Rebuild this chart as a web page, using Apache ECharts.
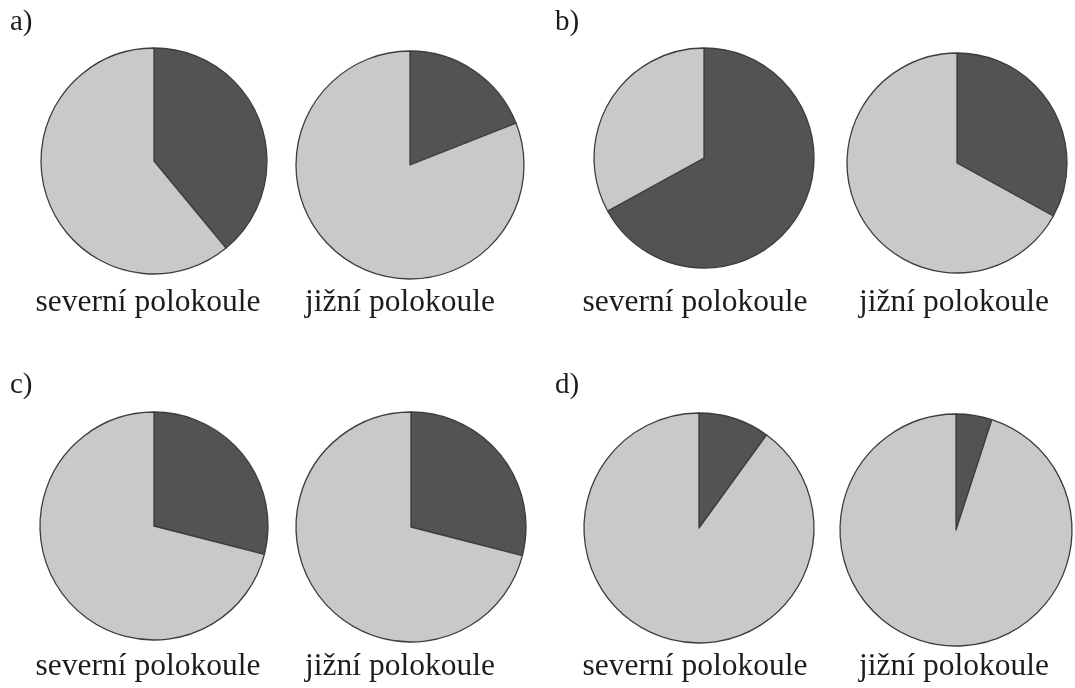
<!DOCTYPE html>
<html>
<head>
<meta charset="utf-8">
<script src="https://cdn.jsdelivr.net/npm/echarts@6/dist/echarts.min.js"></script>
<style>
  html, body { margin: 0; padding: 0; background: #fff; }
  #chart { width: 1075px; height: 688px; }
</style>
</head>
<body>
<div id="chart"></div>
<script>
// panel letters and the two pies in each panel
const panels = ['a)', 'b)', 'c)', 'd)'];
const hemispheres = ['severní polokoule', 'jižní polokoule'];

// dark share and light share of each pie (percent), order: a-sev, a-jiz, b-sev, b-jiz, ...
const darkValues = [39, 19, 67, 33, 29, 29, 10, 5];
const lightValues = [61, 81, 33, 67, 71, 71, 90, 95];

// layout for the pies
const pieCenters = [
  [154, 161], [410, 165], [704, 158], [957, 163],
  [154, 526], [411, 527], [699, 528], [956, 530]
];
const pieRadius = [113, 114, 110, 110, 114, 115, 115, 116];
const panelPos = [[10, 22], [555, 22], [10, 385], [555, 385]];
const labelPos = [
  [148, 303], [400, 303], [695, 303], [954, 303],
  [148, 667], [400, 667], [695, 667], [954, 667]
];

const DARK = '#535356';
const LIGHT = '#c9c9cb';
const FONT = '"Liberation Serif", "DejaVu Serif", serif';

const myChart = echarts.init(document.getElementById('chart'));

const series = darkValues.map((d, i) => ({
  type: 'pie',
  center: pieCenters[i],
  radius: pieRadius[i],
  startAngle: 90,
  clockwise: true,
  silent: true,
  animation: false,
  label: { show: false },
  labelLine: { show: false },
  itemStyle: { borderColor: '#3d3d3d', borderWidth: 1.3 },
  data: [
    { name: 'dark', value: d, itemStyle: { color: DARK } },
    { name: 'light', value: lightValues[i], itemStyle: { color: LIGHT } }
  ]
}));

const texts = [];
panels.forEach((p, i) => {
  texts.push({
    type: 'text', x: panelPos[i][0], y: panelPos[i][1],
    style: { text: p, font: '29px ' + FONT, fill: '#1e1b1c', textVerticalAlign: 'middle' }
  });
});
labelPos.forEach((pos, i) => {
  texts.push({
    type: 'text', x: pos[0], y: pos[1],
    style: {
      text: hemispheres[i % 2], font: '31.5px ' + FONT, fill: '#1e1b1c',
      textAlign: 'center', textVerticalAlign: 'middle'
    }
  });
});

const option = {
  backgroundColor: '#fff',
  animation: false,
  series: series,
  graphic: texts
};

myChart.setOption(option);

window.addEventListener('resize', () => myChart.resize());
</script>
</body>
</html>
